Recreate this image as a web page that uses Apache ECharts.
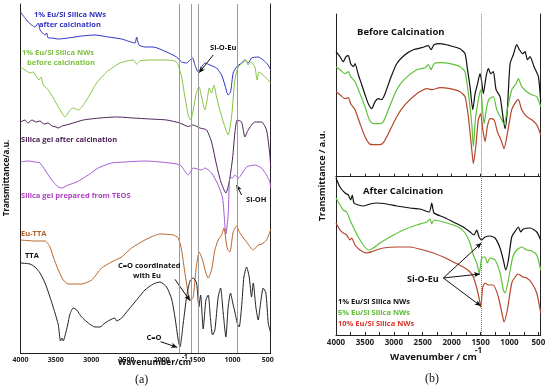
<!DOCTYPE html>
<html><head><meta charset="utf-8">
<script src="https://cdn.jsdelivr.net/npm/echarts@6/dist/echarts.min.js"></script>
<style>html,body{margin:0;padding:0;background:#fff}#c{width:550px;height:389px}</style>
</head><body><div id="c"></div>
<script>
// ---------- Panel (a): wavenumber (cm-1) and transmittance (a.u., offset) ----------
const blueWn = [4000,3936,3890,3842,3795,3748,3724,3700,3653,3630,3607,3559,3465,3324,3135,2946,2758,2569,2381,2357,2324,2240,2122,1933,1791,1721,1650,1603,1565,1533,1486,1438,1391,1320,1226,1155,1108,1062,1028,991,944,873,826,779,731,638,567,496,460];
const blueT  = [341,335,331,328,326,330,323,321,318,320,315,315,314,315,317,318,316,314,310,316,308,306,306,301,296,291,290,293,295,288,281,286,290,288,285,278,268,258,261,280,286,290,293,290,295,296,293,288,283];

const greenWn = [4000,3936,3866,3819,3771,3738,3710,3678,3607,3536,3465,3395,3371,3300,3253,3182,3064,2923,2781,2593,2405,2357,2310,2168,1933,1791,1721,1674,1627,1593,1556,1509,1472,1438,1391,1359,1330,1297,1264,1226,1179,1108,1062,1014,967,920,858,811,779,745,684,652,624,567,460];
const greenT  = [286,283,280,281,276,273,276,268,263,255,246,238,236,243,245,243,253,270,281,290,293,289,292,293,293,291,276,256,238,233,243,261,266,256,243,253,265,260,268,256,243,226,218,236,273,286,290,293,288,291,286,273,281,278,270];

const calcGelWn = [4000,3936,3894,3837,3780,3724,3668,3611,3554,3498,3465,3413,3356,3300,3112,2876,2640,2405,2168,1933,1744,1627,1556,1461,1367,1297,1226,1165,1094,1047,999,967,934,872,825,779,684,590,519,472,460];
const calcGelT  = [231,233,230,233,231,232,229,230,227,226,225,227,228,229,233,235,236,235,234,233,230,226.5,228,225,223,211,188,171,160,171,195,220,233,231,216,223,231,231,223,198,185];

const teosWn = [4000,3894,3795,3724,3653,3559,3465,3417,3324,3205,3041,2900,2711,2522,2240,2027,1744,1627,1556,1438,1391,1297,1203,1141,1108,1094,1062,1037,999,967,920,801,684,590,519,472,460];
const teosT  = [191,192,191,190,183,173,166,165,168,171,178,185,190,191,192,191,188,178,185,183,185,180,168,155,128,119,138,176,175,178,175,186,188,185,178,171,165];

const euttaWn = [4000,3795,3653,3583,3536,3465,3395,3324,3135,2993,2852,2711,2569,2428,2240,2027,1839,1768,1721,1674,1627,1593,1556,1518,1472,1424,1377,1344,1297,1250,1203,1155,1122,1084,1065,1037,991,944,896,801,707,637,585,519,472,460];
const euttaT  = [113,112,112,106,96,83,73,69,69,73,85,91,96,105,113,119,118,115,103,80,60,53,56,83,101,93,80,75,83,103,113,118,125,108,103,101,121,127,120,111,103,108,109,113,121,124];

const ttaWn = [4000,3866,3795,3724,3653,3583,3512,3465,3434,3413,3395,3371,3333,3300,3253,3205,3135,3041,2946,2876,2805,2734,2664,2640,2569,2475,2334,2240,2122,2027,1933,1862,1815,1768,1744,1697,1650,1603,1556,1509,1476,1452,1415,1377,1344,1311,1283,1250,1203,1169,1132,1094,1062,1028,1000,967,934,906,872,839,801,764,731,707,670,637,603,567,528,495,472,460];
const ttaT  = [90,89,86,80,70,56,40,28,12,15,12,17,28,39,45,43,36,30,26,26,30,33,35,32,35,43,55,63,69,71,66,54,36,13,6,30,56,72,75,70,46,58,24,53,58,33,18,23,56,65,40,16,46,60,51,41,30,26,46,76,86,76,56,70,46,33,50,65,60,30,23,20];

const guideLinesA = [1755, 1590, 1480, 938];

// ---------- Panel (b) ----------
const b1TopWn = [4000,3931,3874,3827,3787,3746,3701,3671,3614,3555,3498,3441,3382,3325,3268,3209,3152,3066,2950,2806,2663,2517,2403,2356,2305,2201,2028,1855,1768,1728,1682,1635,1595,1556,1509,1480,1452,1405,1365,1324,1279,1232,1163,1106,1076,1037,990,933,874,829,771,730,691,644,575,500,460];
const b1TopT  = [125,120,115,120,121,113,110,113,102,92,82,73,68,75,78,77,83,97,113,122,127,129,131,127,132,133,131,128,123,108,90,67,83,92,103,95,83,100,108,103,105,87,80,57,48,67,113,122,132,127,123,125,117,120,110,100,75];

const b5TopWn = [4000,3931,3844,3787,3746,3671,3585,3498,3424,3355,3239,3182,3095,2950,2806,2604,2460,2403,2356,2305,2201,2028,1855,1768,1711,1652,1625,1590,1538,1497,1462,1440,1393,1348,1279,1220,1134,1094,1037,961,886,846,788,701,615,528,460];
const b5TopT  = [110,107,103,105,100,95,83,70,57,53,53,55,67,87,98,107,109,112,107,113,114,113,110,105,83,53,30,57,77,87,65,53,70,78,80,67,57,52,67,87,93,98,90,85,82,80,70];

const b10TopWn = [4000,3931,3844,3787,3746,3671,3585,3498,3424,3355,3239,3182,3095,2950,2806,2604,2431,2344,2201,2028,1855,1768,1711,1652,1625,1583,1538,1497,1462,1422,1383,1336,1267,1209,1134,1094,1037,961,886,846,788,701,615,528,460];
const b10TopT  = [85,82,78,79,73,67,53,40,33,32,32,34,43,60,72,83,88,87,89,88,85,80,60,27,13,30,57,63,47,35,50,58,57,45,35,28,43,67,75,77,67,60,57,52,42];

const b1BotWn = [4000,3931,3844,3787,3746,3718,3689,3614,3528,3412,3296,3123,2950,2720,2547,2386,2344,2305,2144,1971,1798,1682,1613,1566,1526,1480,1422,1336,1249,1163,1106,1064,1019,961,886,846,805,760,644,528,460];
const b1BotT  = [157,148,142,140,135,140,132,130,129,131,132,131,129,127,126,123,132,122,118,113,108,103,100,105,98,95,98,99,97,87,75,65,75,98,105,108,103,106,107,103,95];

const b5BotWn = [4000,3931,3874,3815,3758,3701,3614,3528,3441,3355,3239,3066,2836,2604,2431,2374,2344,2305,2085,1885,1768,1682,1625,1566,1521,1480,1422,1383,1336,1249,1163,1106,1076,1019,943,874,788,701,615,528,460];
const b5BotT  = [137,130,125,123,115,108,98,90,85,87,92,98,105,110,113,116,111,115,112,108,102,92,80,72,62,77,78,72,77,75,62,45,42,55,78,85,88,85,84,80,65];

const b10BotWn = [4000,3931,3874,3815,3758,3729,3671,3585,3469,3355,3182,2950,2720,2490,2317,2144,1971,1798,1682,1625,1566,1526,1497,1462,1422,1365,1279,1192,1134,1094,1037,961,903,846,770,701,615,528,460];
const b10BotT  = [112,105,102,100,95,97,90,85,82,84,87,88,88,85,82,78,73,68,63,58,47,37,28,48,52,50,50,38,23,13,25,52,58,61,58,57,52,42,22];

const siOEuLineB = 1480;

// ---------- build ----------
const chart = echarts.init(document.getElementById('c'));
const pair = (xs, ys) => xs.map((x, i) => [-x, ys[i]]);
const FF = '"Open Sans", "DejaVu Sans", sans-serif';
const absFmt = v => String(Math.abs(Math.round(v)));

function line(name, xs, ys, color, xi, yi, width, extra) {
  return Object.assign({
    name, type: 'line', data: pair(xs, ys), xAxisIndex: xi, yAxisIndex: yi,
    showSymbol: false, symbol: 'none', smooth: 0.2, silent: true,
    lineStyle: { color, width: width || 1 }, z: 3
  }, extra || {});
}
function arrow(x1, y1, x2, y2) {
  return [{ coord: [-x1, y1], symbol: 'none' }, { coord: [-x2, y2], symbol: 'arrow', symbolSize: [4, 6] }];
}
function txt(text, x, y, color, size, opts) {
  return Object.assign({
    type: 'text', x, y, silent: true, z: 10,
    style: Object.assign({ text, fill: color, font: 'bold ' + size + 'px ' + FF, textAlign: 'left', textVerticalAlign: 'middle' }, (opts && opts.style) || {})
  }, opts && opts.rotation !== undefined ? { rotation: opts.rotation } : {});
}

const axisLineBlack = { show: true, lineStyle: { color: '#222', width: 1 } };

const option = {
  animation: false,
  backgroundColor: '#fff',
  grid: [
    { left: 20.5, top: 4, width: 250.2, height: 349 },
    { left: 336, top: 14, width: 204.7, height: 162.7 },
    { left: 336, top: 176.7, width: 204.7, height: 158.3 }
  ],
  xAxis: [
    { gridIndex: 0, type: 'value', min: -4000, max: -460, interval: 500,
      axisLine: axisLineBlack, axisTick: { show: false }, splitLine: { show: false },
      axisLabel: { formatter: absFmt, fontSize: 7, fontWeight: 'bold', color: '#222', margin: 3, fontFamily: FF, showMaxLabel: false } },
    { gridIndex: 1, type: 'value', min: -4000, max: -460, interval: 250,
      axisLine: axisLineBlack, axisTick: { show: true, inside: true, length: 3, lineStyle: { color: '#222' } },
      splitLine: { show: false }, axisLabel: { show: false } },
    { gridIndex: 1, type: 'value', position: 'top', min: -4000, max: -460,
      axisLine: axisLineBlack, axisTick: { show: false }, splitLine: { show: false }, axisLabel: { show: false } },
    { gridIndex: 2, type: 'value', min: -4000, max: -460, interval: 250,
      axisLine: axisLineBlack, axisTick: { show: true, inside: true, length: 3, lineStyle: { color: '#222' } },
      splitLine: { show: false },
      axisLabel: { formatter: v => (Math.abs(v) % 500 === 0 ? absFmt(v) : ''), fontSize: 8, fontWeight: 'bold', color: '#222', margin: 4, fontFamily: FF, showMaxLabel: false } }
  ],
  yAxis: [
    { gridIndex: 0, type: 'value', min: 0, max: 349, axisLine: axisLineBlack, axisTick: { show: false }, axisLabel: { show: false }, splitLine: { show: false } },
    { gridIndex: 0, type: 'value', position: 'right', min: 0, max: 349, axisLine: axisLineBlack, axisTick: { show: false }, axisLabel: { show: false }, splitLine: { show: false } },
    { gridIndex: 1, type: 'value', min: 0, max: 162.7, axisLine: axisLineBlack, axisTick: { show: false }, axisLabel: { show: false }, splitLine: { show: false } },
    { gridIndex: 1, type: 'value', position: 'right', min: 0, max: 162.7, axisLine: axisLineBlack, axisTick: { show: false }, axisLabel: { show: false }, splitLine: { show: false } },
    { gridIndex: 2, type: 'value', min: 0, max: 158.3, axisLine: axisLineBlack, axisTick: { show: false }, axisLabel: { show: false }, splitLine: { show: false } },
    { gridIndex: 2, type: 'value', position: 'right', min: 0, max: 158.3, axisLine: axisLineBlack, axisTick: { show: false }, axisLabel: { show: false }, splitLine: { show: false } }
  ],
  series: [
    line('1% after', blueWn, blueT, '#2f32c2', 0, 0),
    line('1% before', greenWn, greenT, '#84c441', 0, 0),
    line('gel calc', calcGelWn, calcGelT, '#4d2158', 0, 0),
    line('gel TEOS', teosWn, teosT, '#a65ad6', 0, 0),
    line('Eu-TTA', euttaWn, euttaT, '#b8662c', 0, 0, 1, {
      markLine: { silent: true, symbol: ['none', 'none'], label: { show: false },
        lineStyle: { color: '#111', width: 1, type: 'solid' },
        data: [
          arrow(1274, 298, 1472, 280.3),
          arrow(872, 158, 943, 168),
          arrow(1815, 73.7, 1603, 52.3),
          arrow(2018, 11.3, 1783, 5.7)
        ] } }),
    line('TTA', ttaWn, ttaT, '#222', 0, 0, 1, {
      markLine: { silent: true, symbol: ['none', 'none'], label: { show: false },
        lineStyle: { color: '#9a9a9a', width: 1, type: 'solid' },
        data: guideLinesA.map(v => ({ xAxis: -v })) } }),

    line('b1 top', b1TopWn, b1TopT, '#111', 1, 2, 1.2, {
      markLine: { silent: true, symbol: ['none', 'none'], label: { show: false },
        lineStyle: { color: '#777', width: 1, type: 'dotted' }, data: [{ xAxis: -siOEuLineB }] } }),
    line('b5 top', b5TopWn, b5TopT, '#5fc23a', 1, 2, 1.2),
    line('b10 top', b10TopWn, b10TopT, '#b5452c', 1, 2, 1.2),
    line('b1 bot', b1BotWn, b1BotT, '#111', 3, 4, 1.2, {
      markLine: { silent: true, symbol: ['none', 'none'], label: { show: false },
        lineStyle: { color: '#777', width: 1, type: 'dotted' }, data: [{ xAxis: -siOEuLineB }] } }),
    line('b5 bot', b5BotWn, b5BotT, '#5fc23a', 3, 4, 1.2),
    line('b10 bot', b10BotWn, b10BotT, '#b5452c', 3, 4, 1.2, {
      markLine: { silent: true, symbol: ['none', 'none'], label: { show: false },
        lineStyle: { color: '#111', width: 1, type: 'solid' },
        data: [
          arrow(2144, 57, 1486, 92),
          arrow(2144, 57, 1509, 61),
          arrow(2144, 57, 1497, 29)
        ] } })
  ],
  graphic: [
    txt('1% Eu/Si Silica NWs', 34, 15, '#2f32c2', 7.5),
    txt('after calcination', 39, 25, '#2f32c2', 7.5),
    txt('1% Eu/Si Silica NWs', 22, 53, '#7cc03f', 7.5),
    txt('before calcination', 27, 63, '#7cc03f', 7.5),
    txt('Si-O-Eu', 210, 48, '#111', 7.5),
    txt('Silica gel after calcination', 21, 140, '#4d2158', 7.5),
    txt('Silica gel prepared from TEOS', 21, 196, '#b03ec4', 7.5),
    txt('Si-OH', 246, 200, '#111', 7.5),
    txt('Eu-TTA', 21, 234, '#b0602a', 7.5),
    txt('TTA', 25, 256, '#111', 7.5),
    txt('C=O coordinated', 118, 266, '#111', 7.5),
    txt('with Eu', 133, 276, '#111', 7.5),
    txt('C=O', 146.5, 338, '#111', 7.5),
    txt('Wavenumber/cm', 118, 363, '#111', 8.5),
    txt('-1', 182, 357, '#111', 6.5),
    txt('(a)', 141.7, 380, '#111', 12, { style: { font: '12px "Liberation Serif", serif', textAlign: 'center' } }),
    txt('Transmittance/a.u.', 7, 178, '#111', 8, { rotation: Math.PI / 2, style: { textAlign: 'center' } }),

    txt('Before Calcination', 357, 32, '#111', 9.5),
    txt('After Calcination', 363, 191, '#111', 9.5),
    txt('Si-O-Eu', 407, 279, '#111', 9),
    txt('1% Eu/Si Silica NWs', 338, 302, '#111', 7.5),
    txt('5% Eu/Si Silica NWs', 338, 313, '#5cbd2e', 7.5),
    txt('10% Eu/Si Silica NWs', 338, 324, '#d9342b', 7.5),
    txt('Wavenumber / cm', 390, 357, '#111', 9.5),
    txt('-1', 475, 351, '#111', 8),
    txt('(b)', 432, 379, '#111', 12, { style: { font: '12px "Liberation Serif", serif', textAlign: 'center' } }),
    txt('Transmittance / a.u.', 322, 176, '#111', 9, { rotation: Math.PI / 2, style: { textAlign: 'center' } })
  ]
};
chart.setOption(option);
</script>
</body></html>
